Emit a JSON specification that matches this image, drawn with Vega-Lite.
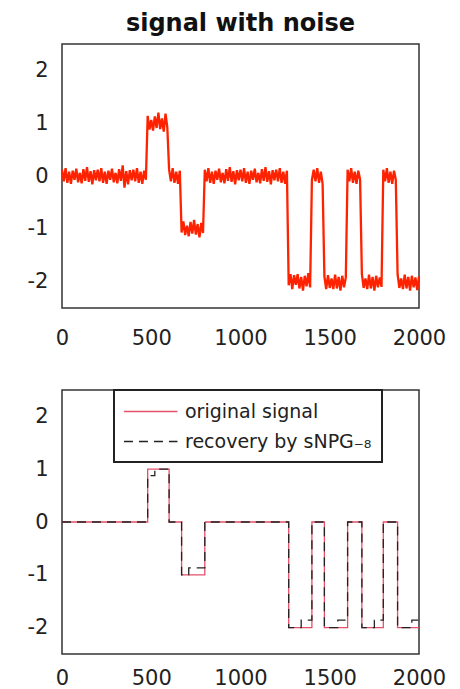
{
  "$schema": "https://vega.github.io/schema/vega-lite/v6.json",
  "padding": {"left": 26, "top": 11, "right": 5, "bottom": 0},
  "background": "white",
  "datasets": {
    "noisy": [
      {"x":0,"y":0.12},{"x":10,"y":-0.10},{"x":20,"y":0.15},{"x":30,"y":-0.13},{"x":40,"y":0.08},{"x":50,"y":-0.15},{"x":60,"y":0.10},{"x":70,"y":-0.07},{"x":80,"y":0.14},{"x":90,"y":-0.12},
      {"x":100,"y":0.06},{"x":110,"y":-0.14},{"x":120,"y":0.13},{"x":130,"y":-0.09},{"x":140,"y":0.17},{"x":150,"y":-0.11},{"x":160,"y":0.09},{"x":170,"y":-0.16},{"x":180,"y":0.11},{"x":190,"y":-0.08},
      {"x":200,"y":0.12},{"x":210,"y":-0.10},{"x":220,"y":0.15},{"x":230,"y":-0.13},{"x":240,"y":0.08},{"x":250,"y":-0.15},{"x":260,"y":0.10},{"x":270,"y":-0.07},{"x":280,"y":0.14},{"x":290,"y":-0.12},
      {"x":300,"y":0.06},{"x":310,"y":-0.14},{"x":320,"y":0.13},{"x":330,"y":-0.09},{"x":340,"y":0.20},{"x":350,"y":-0.22},{"x":360,"y":0.09},{"x":370,"y":-0.16},{"x":380,"y":0.11},{"x":390,"y":-0.08},
      {"x":400,"y":0.12},{"x":410,"y":-0.10},{"x":420,"y":0.15},{"x":430,"y":-0.13},{"x":440,"y":0.08},{"x":450,"y":-0.15},{"x":460,"y":0.10},{"x":470,"y":-0.07},
      {"x":480,"y":1.14},{"x":490,"y":0.88},{"x":500,"y":1.06},{"x":510,"y":0.86},{"x":520,"y":1.13},{"x":530,"y":0.91},{"x":540,"y":1.20},{"x":550,"y":0.89},{"x":560,"y":1.09},{"x":570,"y":0.84},{"x":580,"y":1.18},{"x":590,"y":0.92},
      {"x":600,"y":0.12},{"x":610,"y":-0.10},{"x":620,"y":0.15},{"x":630,"y":-0.13},{"x":640,"y":0.08},{"x":650,"y":-0.15},{"x":660,"y":0.10},
      {"x":670,"y":-1.07},{"x":680,"y":-0.86},{"x":690,"y":-1.12},{"x":700,"y":-0.94},{"x":710,"y":-1.14},{"x":720,"y":-0.87},{"x":730,"y":-1.09},{"x":740,"y":-0.83},{"x":750,"y":-1.11},{"x":760,"y":-0.91},{"x":770,"y":-1.16},{"x":780,"y":-0.89},{"x":790,"y":-1.08},
      {"x":800,"y":0.12},{"x":810,"y":-0.10},{"x":820,"y":0.15},{"x":830,"y":-0.13},{"x":840,"y":0.08},{"x":850,"y":-0.15},{"x":860,"y":0.10},{"x":870,"y":-0.07},{"x":880,"y":0.14},{"x":890,"y":-0.12},
      {"x":900,"y":0.06},{"x":910,"y":-0.14},{"x":920,"y":0.13},{"x":930,"y":-0.09},{"x":940,"y":0.17},{"x":950,"y":-0.11},{"x":960,"y":0.09},{"x":970,"y":-0.16},{"x":980,"y":0.11},{"x":990,"y":-0.08},
      {"x":1000,"y":0.12},{"x":1010,"y":-0.10},{"x":1020,"y":0.15},{"x":1030,"y":-0.13},{"x":1040,"y":0.08},{"x":1050,"y":-0.15},{"x":1060,"y":0.10},{"x":1070,"y":-0.07},{"x":1080,"y":0.14},{"x":1090,"y":-0.12},
      {"x":1100,"y":0.06},{"x":1110,"y":-0.14},{"x":1120,"y":0.13},{"x":1130,"y":-0.09},{"x":1140,"y":0.17},{"x":1150,"y":-0.11},{"x":1160,"y":0.09},{"x":1170,"y":-0.16},{"x":1180,"y":0.11},{"x":1190,"y":-0.08},
      {"x":1200,"y":0.12},{"x":1210,"y":-0.10},{"x":1220,"y":0.15},{"x":1230,"y":-0.13},{"x":1240,"y":0.08},{"x":1250,"y":-0.15},{"x":1260,"y":0.10},
      {"x":1270,"y":-2.07},{"x":1280,"y":-1.86},{"x":1290,"y":-2.14},{"x":1300,"y":-1.88},{"x":1310,"y":-2.06},{"x":1320,"y":-1.86},{"x":1330,"y":-2.13},{"x":1340,"y":-1.91},{"x":1350,"y":-2.17},{"x":1360,"y":-1.89},{"x":1370,"y":-2.09},{"x":1380,"y":-1.84},{"x":1390,"y":-2.11},
      {"x":1400,"y":-0.08},{"x":1410,"y":0.12},{"x":1420,"y":-0.10},{"x":1430,"y":0.15},{"x":1440,"y":-0.13},{"x":1450,"y":0.08},{"x":1460,"y":-0.15},
      {"x":1470,"y":-1.90},{"x":1480,"y":-2.14},{"x":1490,"y":-1.88},{"x":1500,"y":-2.12},{"x":1510,"y":-1.94},{"x":1520,"y":-2.14},{"x":1530,"y":-1.87},{"x":1540,"y":-2.13},{"x":1550,"y":-1.91},{"x":1560,"y":-2.17},{"x":1570,"y":-1.89},{"x":1580,"y":-2.11},{"x":1590,"y":-1.92},
      {"x":1600,"y":0.12},{"x":1610,"y":-0.10},{"x":1620,"y":0.15},{"x":1630,"y":-0.13},{"x":1640,"y":0.08},{"x":1650,"y":-0.15},{"x":1660,"y":0.10},{"x":1670,"y":-0.07},
      {"x":1680,"y":-1.86},{"x":1690,"y":-2.12},{"x":1700,"y":-1.94},{"x":1710,"y":-2.14},{"x":1720,"y":-1.87},{"x":1730,"y":-2.13},{"x":1740,"y":-1.91},{"x":1750,"y":-2.17},{"x":1760,"y":-1.89},{"x":1770,"y":-2.11},{"x":1780,"y":-1.92},{"x":1790,"y":-2.10},
      {"x":1800,"y":0.12},{"x":1810,"y":-0.10},{"x":1820,"y":0.15},{"x":1830,"y":-0.13},{"x":1840,"y":0.08},{"x":1850,"y":-0.15},{"x":1860,"y":0.10},{"x":1870,"y":-0.07},
      {"x":1880,"y":-1.86},{"x":1890,"y":-2.12},{"x":1900,"y":-1.94},{"x":1910,"y":-2.14},{"x":1920,"y":-1.87},{"x":1930,"y":-2.13},{"x":1940,"y":-1.91},{"x":1950,"y":-2.17},{"x":1960,"y":-1.89},{"x":1970,"y":-2.11},{"x":1980,"y":-1.92},{"x":1990,"y":-2.16},{"x":2000,"y":-1.90}
    ],
    "steps": [
      {"series":"original signal","x":0,"y":0},{"series":"original signal","x":480,"y":1},{"series":"original signal","x":600,"y":0},{"series":"original signal","x":670,"y":-1},{"series":"original signal","x":800,"y":0},{"series":"original signal","x":1270,"y":-2},{"series":"original signal","x":1400,"y":0},{"series":"original signal","x":1470,"y":-2},{"series":"original signal","x":1600,"y":0},{"series":"original signal","x":1680,"y":-2},{"series":"original signal","x":1800,"y":0},{"series":"original signal","x":1880,"y":-2},{"series":"original signal","x":2000,"y":-2},
      {"series":"recovery by sNPG₋₈","x":0,"y":0},{"series":"recovery by sNPG₋₈","x":480,"y":0.88},{"series":"recovery by sNPG₋₈","x":520,"y":1},{"series":"recovery by sNPG₋₈","x":600,"y":0},{"series":"recovery by sNPG₋₈","x":670,"y":-1},{"series":"recovery by sNPG₋₈","x":710,"y":-0.87},{"series":"recovery by sNPG₋₈","x":800,"y":0},{"series":"recovery by sNPG₋₈","x":1270,"y":-2},{"series":"recovery by sNPG₋₈","x":1340,"y":-1.86},{"series":"recovery by sNPG₋₈","x":1400,"y":0},{"series":"recovery by sNPG₋₈","x":1470,"y":-2},{"series":"recovery by sNPG₋₈","x":1545,"y":-1.86},{"series":"recovery by sNPG₋₈","x":1600,"y":0},{"series":"recovery by sNPG₋₈","x":1680,"y":-2},{"series":"recovery by sNPG₋₈","x":1750,"y":-1.86},{"series":"recovery by sNPG₋₈","x":1800,"y":0},{"series":"recovery by sNPG₋₈","x":1880,"y":-2},{"series":"recovery by sNPG₋₈","x":1960,"y":-1.86},{"series":"recovery by sNPG₋₈","x":2000,"y":-1.86}
    ]
  },
  "resolve": {"legend": {"color": "independent", "strokeDash": "independent"}, "scale": {"color": "independent", "strokeDash": "independent"}},
  "vconcat": [
    {
      "title": {"text": "signal with noise", "fontSize": 24, "fontWeight": "bold", "color": "#111", "anchor": "middle", "offset": 8},
      "width": 357,
      "height": 264,
      "data": {"name": "noisy"},
      "mark": {"type": "line", "color": "#ff2200", "strokeWidth": 2.3},
      "encoding": {
        "x": {"field": "x", "type": "quantitative", "scale": {"domain": [0, 2000], "nice": false}, "axis": {"title": null, "values": [0, 500, 1000, 1500, 2000], "format": "d", "labelOverlap": false, "labelFlush": false, "labelPadding": 19}},
        "y": {"field": "y", "type": "quantitative", "scale": {"domain": [-2.5, 2.5], "nice": false}, "axis": {"title": null, "values": [-2, -1, 0, 1, 2]}}
      }
    },
    {
      "width": 357,
      "height": 264,
      "data": {"name": "steps"},
      "mark": {"type": "line", "interpolate": "step-after", "strokeWidth": 1.3},
      "encoding": {
        "x": {"field": "x", "type": "quantitative", "scale": {"domain": [0, 2000], "nice": false}, "axis": {"title": null, "values": [0, 500, 1000, 1500, 2000], "format": "d", "labelOverlap": false, "labelFlush": false, "labelPadding": 13}},
        "y": {"field": "y", "type": "quantitative", "scale": {"domain": [-2.5, 2.5], "nice": false}, "axis": {"title": null, "values": [-2, -1, 0, 1, 2]}},
        "color": {"field": "series", "type": "nominal", "scale": {"domain": ["original signal", "recovery by sNPG₋₈"], "range": ["#e4506a", "#222222"]}, "legend": {"title": null}},
        "strokeDash": {"field": "series", "type": "nominal", "scale": {"domain": ["original signal", "recovery by sNPG₋₈"], "range": [[1, 0], [9, 6]]}, "legend": {"title": null}}
      }
    }
  ],
  "config": {
    "font": "DejaVu Sans",
    "view": {"stroke": "#333333", "strokeWidth": 1.5},
    "concat": {"spacing": 39},
    "axis": {"grid": false, "ticks": false, "domain": false, "labelFontSize": 21, "labelColor": "#222222", "labelPadding": 14, "labelExpr": "replace(datum.label, '−', '-')"},
    "legend": {
      "orient": "none", "legendX": 52, "legendY": 0, "direction": "vertical",
      "fillColor": "white", "strokeColor": "#222222", "strokeWidth": 2, "padding": 10,
      "labelFontSize": 19, "labelColor": "#222222", "labelOffset": 38,
      "symbolType": "M-1.1,0H4", "symbolSize": 440, "symbolStrokeWidth": 1.5, "rowPadding": 8, "labelLimit": 400
    }
  }
}
